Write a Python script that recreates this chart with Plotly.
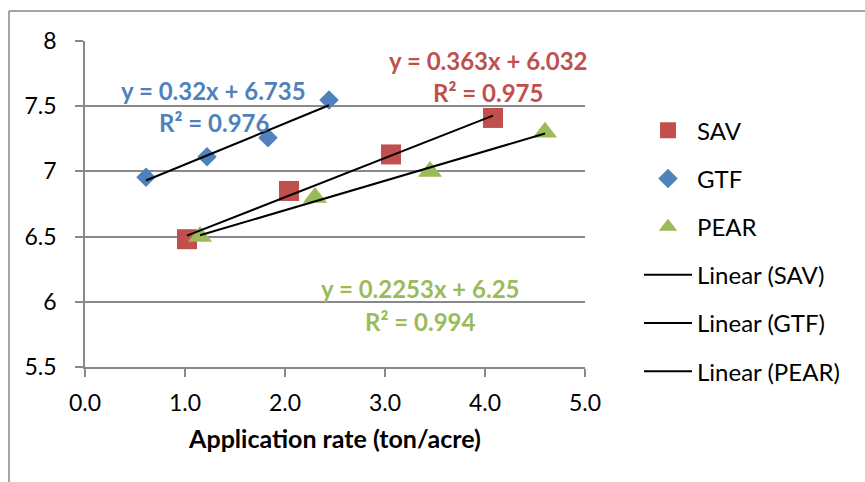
import numpy as np
import plotly.graph_objects as go

# ---- data ----
sav_x = [1.02, 2.04, 3.06, 4.08]
sav_y = [6.48, 6.85, 7.13, 7.41]
gtf_x = [0.61, 1.22, 1.83, 2.44]
gtf_y = [6.955, 7.113, 7.258, 7.548]
pear_x = [1.15, 2.30, 3.45, 4.60]
pear_y = [6.50, 6.80, 7.00, 7.30]

series_names = ["SAV", "GTF", "PEAR"]
eq_labels = ["y = 0.363x + 6.032", "y = 0.32x + 6.735", "y = 0.2253x + 6.25"]
r2_labels = ["R² = 0.975", "R² = 0.976", "R² = 0.994"]
x_title = "Application rate (ton/acre)"

colors = ["#C0504D", "#4F81BD", "#9BBB59"]
symbols = ["square", "diamond", "triangle-up"]
sizes = [20, 15, 21]

FONT = "Lato, 'Open Sans', sans-serif"
GRID = "#898989"

xs = [sav_x, gtf_x, pear_x]
ys = [sav_y, gtf_y, pear_y]

fig = go.Figure()
for i, name in enumerate(series_names):
    fig.add_trace(go.Scatter(
        x=xs[i], y=ys[i], mode="markers", name=name,
        legendgroup="g%d" % i,
        marker=dict(color=colors[i], symbol=symbols[i], size=sizes[i], line=dict(width=0)),
    ))
for i, name in enumerate(series_names):
    slope, icpt = np.polyfit(xs[i], ys[i], 1)
    tx = np.array([min(xs[i]), max(xs[i])])
    fig.add_trace(go.Scatter(
        x=tx, y=slope * tx + icpt, mode="lines", name="Linear (%s)" % name,
        legendgroup="l%d" % i,
        line=dict(color="black", width=2),
    ))

# equation annotations (positions in data units)
ann_pos = [((4.03, 7.851), (4.03, 7.606)),
           ((1.28, 7.621), (1.29, 7.376)),
           ((3.35, 6.105), (3.35, 5.852))]
for i in range(3):
    (x1, y1), (x2, y2) = ann_pos[i]
    for (ax_, ay_, txt) in ((x1, y1, eq_labels[i]), (x2, y2, r2_labels[i])):
        fig.add_annotation(x=ax_, y=ay_, text="<b>%s</b>" % txt, showarrow=False,
                           font=dict(family=FONT, size=24, color=colors[i]),
                           xanchor="center", yanchor="middle")

# outer chart border (top and left edges visible)
fig.add_shape(type="line", xref="paper", yref="paper", x0=-0.152, x1=1.6, y0=1.092, y1=1.092,
              line=dict(color="#868686", width=1.5))
fig.add_shape(type="line", xref="paper", yref="paper", x0=-0.152, x1=-0.152, y0=1.092, y1=-0.4,
              line=dict(color="#868686", width=1.5))

fig.update_layout(
    width=865, height=482,
    margin=dict(l=85, r=280, t=41, b=115),
    paper_bgcolor="white", plot_bgcolor="white",
    font=dict(family=FONT, size=23, color="black"),
    showlegend=True,
    legend=dict(x=1.108, y=0.794, xanchor="left", yanchor="top",
                bgcolor="rgba(0,0,0,0)", tracegroupgap=14, itemwidth=48,
                font=dict(family=FONT, size=24, color="black")),
    xaxis=dict(range=[0, 5], dtick=1, tickformat=".1f", showgrid=False, zeroline=False,
               showline=True, linecolor=GRID, linewidth=1.5,
               ticks="outside", ticklen=8, tickcolor=GRID, tickwidth=1.5,
               ticklabelstandoff=7,
               title=dict(text="<b>%s</b>" % x_title, font=dict(family=FONT, size=25), standoff=15)),
    yaxis=dict(range=[5.5, 8], dtick=0.5, showgrid=True, gridcolor=GRID, gridwidth=1.5,
               zeroline=False, showline=True, linecolor=GRID, linewidth=1.5,
               ticks="outside", ticklen=8, tickcolor=GRID, tickwidth=1.5,
               ticklabelstandoff=14),
)

fig.write_html("out.html")
